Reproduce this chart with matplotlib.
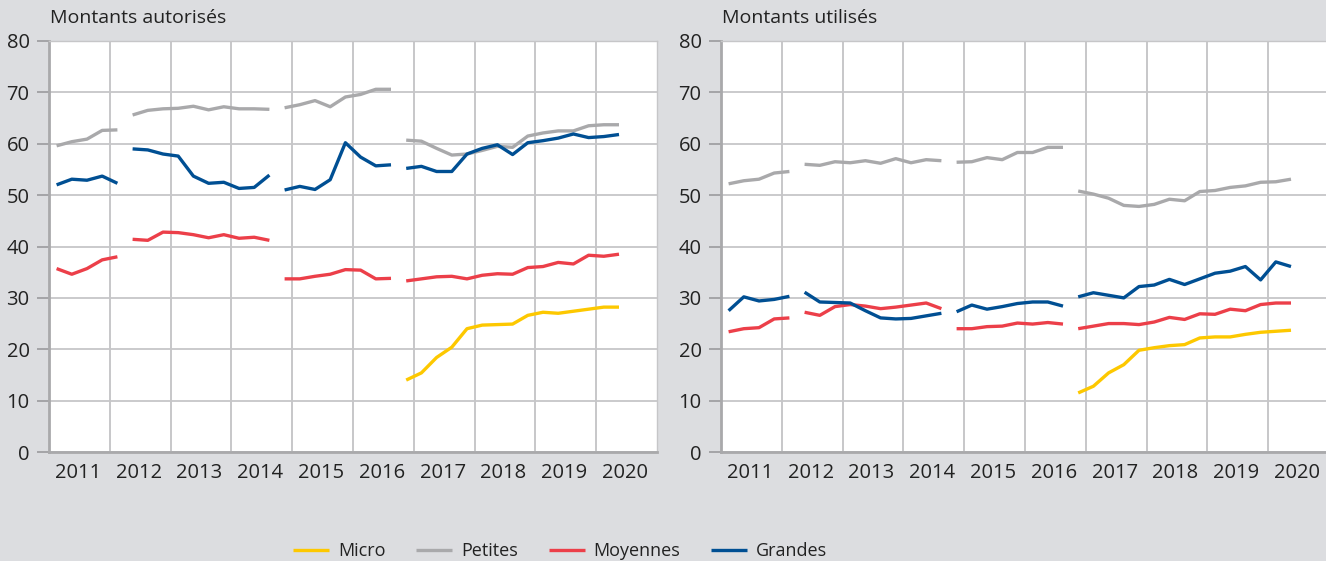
import numpy as np
import matplotlib.pyplot as plt

plt.rcParams['font.family'] = ['Open Sans', 'DejaVu Sans']

# quarterly data, 2011 Q1 .. 2020 Q2 (38 quarters); series break after quarters 5, 15, 23
years = list(range(2011, 2021))
segments = [(0, 5), (5, 15), (15, 23), (23, 38)]
nan = np.nan

# Montants autorisés
aut_micro = [nan] * 23 + [14.0, 15.4, 18.4, 20.4, 24.0, 24.7, 24.8, 24.9,
                          26.6, 27.2, 27.0, 27.4, 27.8, 28.2, 28.2]
aut_petites = [59.6, 60.4, 60.9, 62.6, 62.7,
               65.6, 66.5, 66.8, 66.9, 67.3, 66.6, 67.2, 66.8, 66.8, 66.7,
               67.0, 67.6, 68.4, 67.2, 69.1, 69.6, 70.6, 70.6,
               60.7, 60.5, 59.1, 57.8, 58.0, 58.7, 59.5, 59.3,
               61.5, 62.1, 62.5, 62.5, 63.5, 63.7, 63.7]
aut_moyennes = [35.7, 34.6, 35.7, 37.4, 38.0,
                41.4, 41.2, 42.8, 42.7, 42.3, 41.7, 42.3, 41.6, 41.8, 41.2,
                33.7, 33.7, 34.2, 34.6, 35.5, 35.4, 33.7, 33.8,
                33.3, 33.7, 34.1, 34.2, 33.7, 34.4, 34.7, 34.6,
                35.9, 36.1, 36.9, 36.6, 38.3, 38.1, 38.5]
aut_grandes = [52.0, 53.1, 52.9, 53.7, 52.3,
               59.0, 58.8, 58.0, 57.6, 53.7, 52.3, 52.5, 51.3, 51.5, 53.9,
               51.0, 51.7, 51.1, 53.0, 60.2, 57.4, 55.7, 55.9,
               55.2, 55.6, 54.6, 54.6, 58.0, 59.1, 59.8, 57.9,
               60.2, 60.6, 61.1, 61.9, 61.2, 61.4, 61.8]

# Montants utilisés
uti_micro = [nan] * 23 + [11.5, 12.8, 15.4, 17.0, 19.8, 20.3, 20.7, 20.9,
                          22.2, 22.4, 22.4, 22.9, 23.3, 23.5, 23.7]
uti_petites = [52.2, 52.8, 53.1, 54.3, 54.6,
               56.0, 55.8, 56.5, 56.3, 56.7, 56.2, 57.1, 56.3, 56.9, 56.7,
               56.4, 56.5, 57.3, 56.9, 58.3, 58.3, 59.3, 59.3,
               50.8, 50.2, 49.4, 48.0, 47.8, 48.2, 49.2, 48.9,
               50.7, 50.9, 51.5, 51.8, 52.5, 52.6, 53.1]
uti_moyennes = [23.4, 24.0, 24.2, 25.9, 26.1,
                27.2, 26.6, 28.3, 28.7, 28.4, 27.9, 28.2, 28.6, 29.0, 27.9,
                24.0, 24.0, 24.4, 24.5, 25.1, 24.9, 25.2, 24.9,
                24.0, 24.5, 25.0, 25.0, 24.8, 25.3, 26.2, 25.8,
                26.9, 26.8, 27.8, 27.5, 28.7, 29.0, 29.0]
uti_grandes = [27.5, 30.2, 29.4, 29.7, 30.3,
               31.1, 29.2, 29.1, 29.0, 27.5, 26.1, 25.9, 26.0, 26.5, 27.0,
               27.3, 28.6, 27.8, 28.3, 28.9, 29.2, 29.2, 28.4,
               30.2, 31.0, 30.5, 30.0, 32.2, 32.5, 33.6, 32.6,
               33.7, 34.8, 35.2, 36.1, 33.5, 37.0, 36.1]

labels = ['Micro', 'Petites', 'Moyennes', 'Grandes']
colors = ['#fdc800', '#a9a9ab', '#ec3f49', '#004f93']

bg = '#dcdde0'
fig = plt.figure(figsize=(13.26, 5.61), dpi=100, facecolor=bg)
W, H = 1326, 561
ax1 = fig.add_axes([49 / W, 1 - 452 / H, 608 / W, 411 / H])
ax2 = fig.add_axes([721 / W, 1 - 452 / H, 608 / W, 411 / H])

panels = [(ax1, 'Montants autorisés', [aut_micro, aut_petites, aut_moyennes, aut_grandes]),
          (ax2, 'Montants utilisés', [uti_micro, uti_petites, uti_moyennes, uti_grandes])]

for ax, title, series in panels:
    ax.set_facecolor('white')
    for vals, lab, col in zip(series, labels, colors):
        v = np.array(vals, dtype=float)
        x = np.arange(len(v))
        for k, (a, b) in enumerate(segments):
            ax.plot(x[a:b], v[a:b], color=col, lw=2.4, solid_capstyle='butt',
                    label=lab if k == 3 else None, zorder=3)
    ax.set_xlim(-0.5, 39.5)
    ax.set_ylim(0, 80)
    ax.set_yticks(range(0, 81, 10))
    ax.set_xticks([4 * i + 1.4 for i in range(len(years))])
    ax.set_xticklabels([str(y) for y in years])
    ax.set_xticks([4 * i - 0.5 for i in range(1, len(years))], minor=True)
    ax.grid(axis='y', which='major', color='#c6c6c8', lw=1.3, zorder=1)
    ax.grid(axis='x', which='minor', color='#b8b8ba', lw=1.1, zorder=1)
    ax.tick_params(axis='x', which='both', length=0, pad=8, labelsize=14.5, labelcolor='#222222')
    ax.tick_params(axis='y', length=9, width=1.3, color='#a0a0a2', pad=5,
                   labelsize=14.5, labelcolor='#222222')
    for s in ['left', 'bottom']:
        ax.spines[s].set_color('#a9a9ab')
        ax.spines[s].set_linewidth(2)
    for s in ['top', 'right']:
        ax.spines[s].set_color('#c6c6c8')
        ax.spines[s].set_linewidth(1)
    pos = ax.get_position()
    fig.text(pos.x0 + 1 / W, 1 - 18 / H, title, fontsize=14, color='#222222',
             ha='left', va='center')

handles, labs = ax1.get_legend_handles_labels()
fig.legend(handles, labs, loc='center', bbox_to_anchor=(560 / W, 1 - 551 / H), ncol=4,
           frameon=False, fontsize=13, handlelength=2.0, handletextpad=0.5,
           columnspacing=1.7, labelcolor='#222222')

fig.savefig('out.png', dpi=100, facecolor=bg)
